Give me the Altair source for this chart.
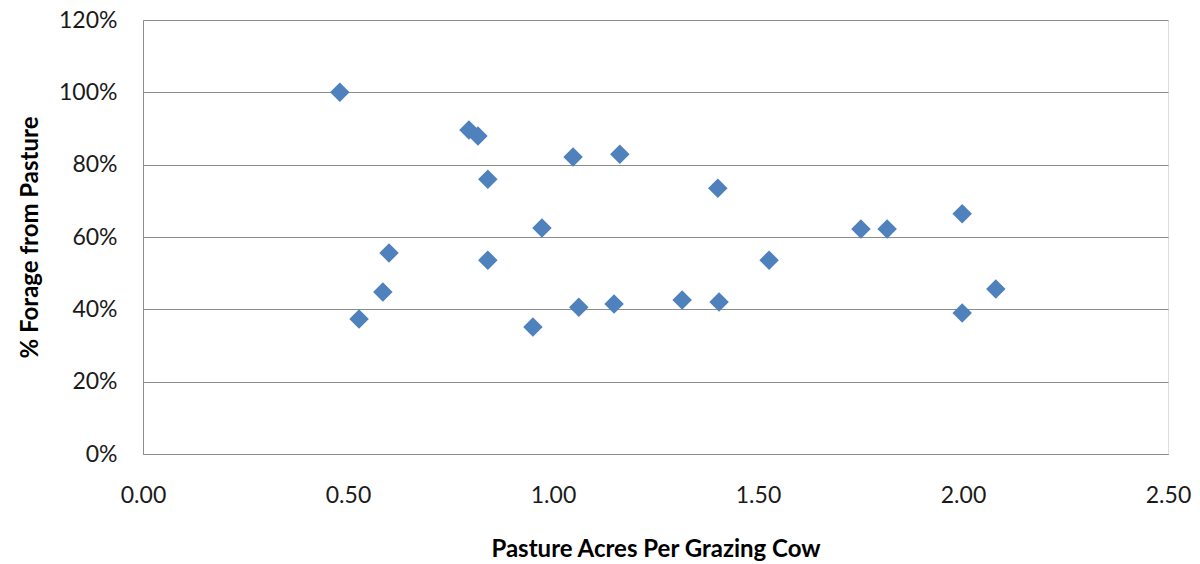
import altair as alt
import pandas as pd

acres = [0.48, 0.795, 0.817, 0.841, 1.049, 1.163, 1.402, 0.973, 0.600, 0.841, 0.585,
         0.527, 0.951, 1.063, 1.149, 1.315, 1.405, 1.527, 1.751, 1.815, 1.998, 1.998, 2.080]
forage = [1.00, 0.896, 0.879, 0.760, 0.821, 0.829, 0.735, 0.625, 0.556, 0.536, 0.448,
          0.373, 0.351, 0.406, 0.415, 0.426, 0.420, 0.536, 0.622, 0.622, 0.664, 0.390, 0.456]

df = pd.DataFrame({"acres": acres, "forage": forage})

FONT = "Lato"
GRAY = "#8c8c8c"

chart = alt.Chart(df).mark_point(
    shape="diamond", filled=True, size=380, color="#4F81BD", opacity=1
).encode(
    x=alt.X("acres:Q", scale=alt.Scale(domain=[0, 2.5], nice=False),
            axis=alt.Axis(title="Pasture Acres Per Grazing Cow", values=[0, 0.5, 1.0, 1.5, 2.0, 2.5],
                          format=".2f", grid=False, ticks=False, domainColor=GRAY,
                          labelFlush=False,
                          labelFontSize=23, labelColor="#1a1a1a", labelPadding=30,
                          titleFontSize=24, titleFontWeight="bold", titleColor="#000000",
                          titlePadding=30, labelFont=FONT, titleFont=FONT)),
    y=alt.Y("forage:Q", scale=alt.Scale(domain=[0, 1.2], nice=False),
            axis=alt.Axis(title="% Forage from Pasture", values=[0, 0.2, 0.4, 0.6, 0.8, 1.0, 1.2],
                          format=".0%", grid=True, gridColor=GRAY, gridWidth=1, ticks=False,
                          labelFlush=False,
                          domainColor=GRAY, labelFontSize=23, labelColor="#1a1a1a",
                          labelPadding=26, titleFontSize=24, titleFontWeight="bold",
                          titleColor="#000000", titlePadding=16, labelFont=FONT, titleFont=FONT)),
).properties(
    width=1025, height=434,
    autosize=alt.AutoSizeParams(type="none"),
    padding={"left": 143, "top": 20, "right": 32, "bottom": 110},
).configure_view(stroke="#4F81BD", strokeWidth=1).configure(background="white")

chart.save("out.html", embed_options={"renderer": "svg", "actions": False})
